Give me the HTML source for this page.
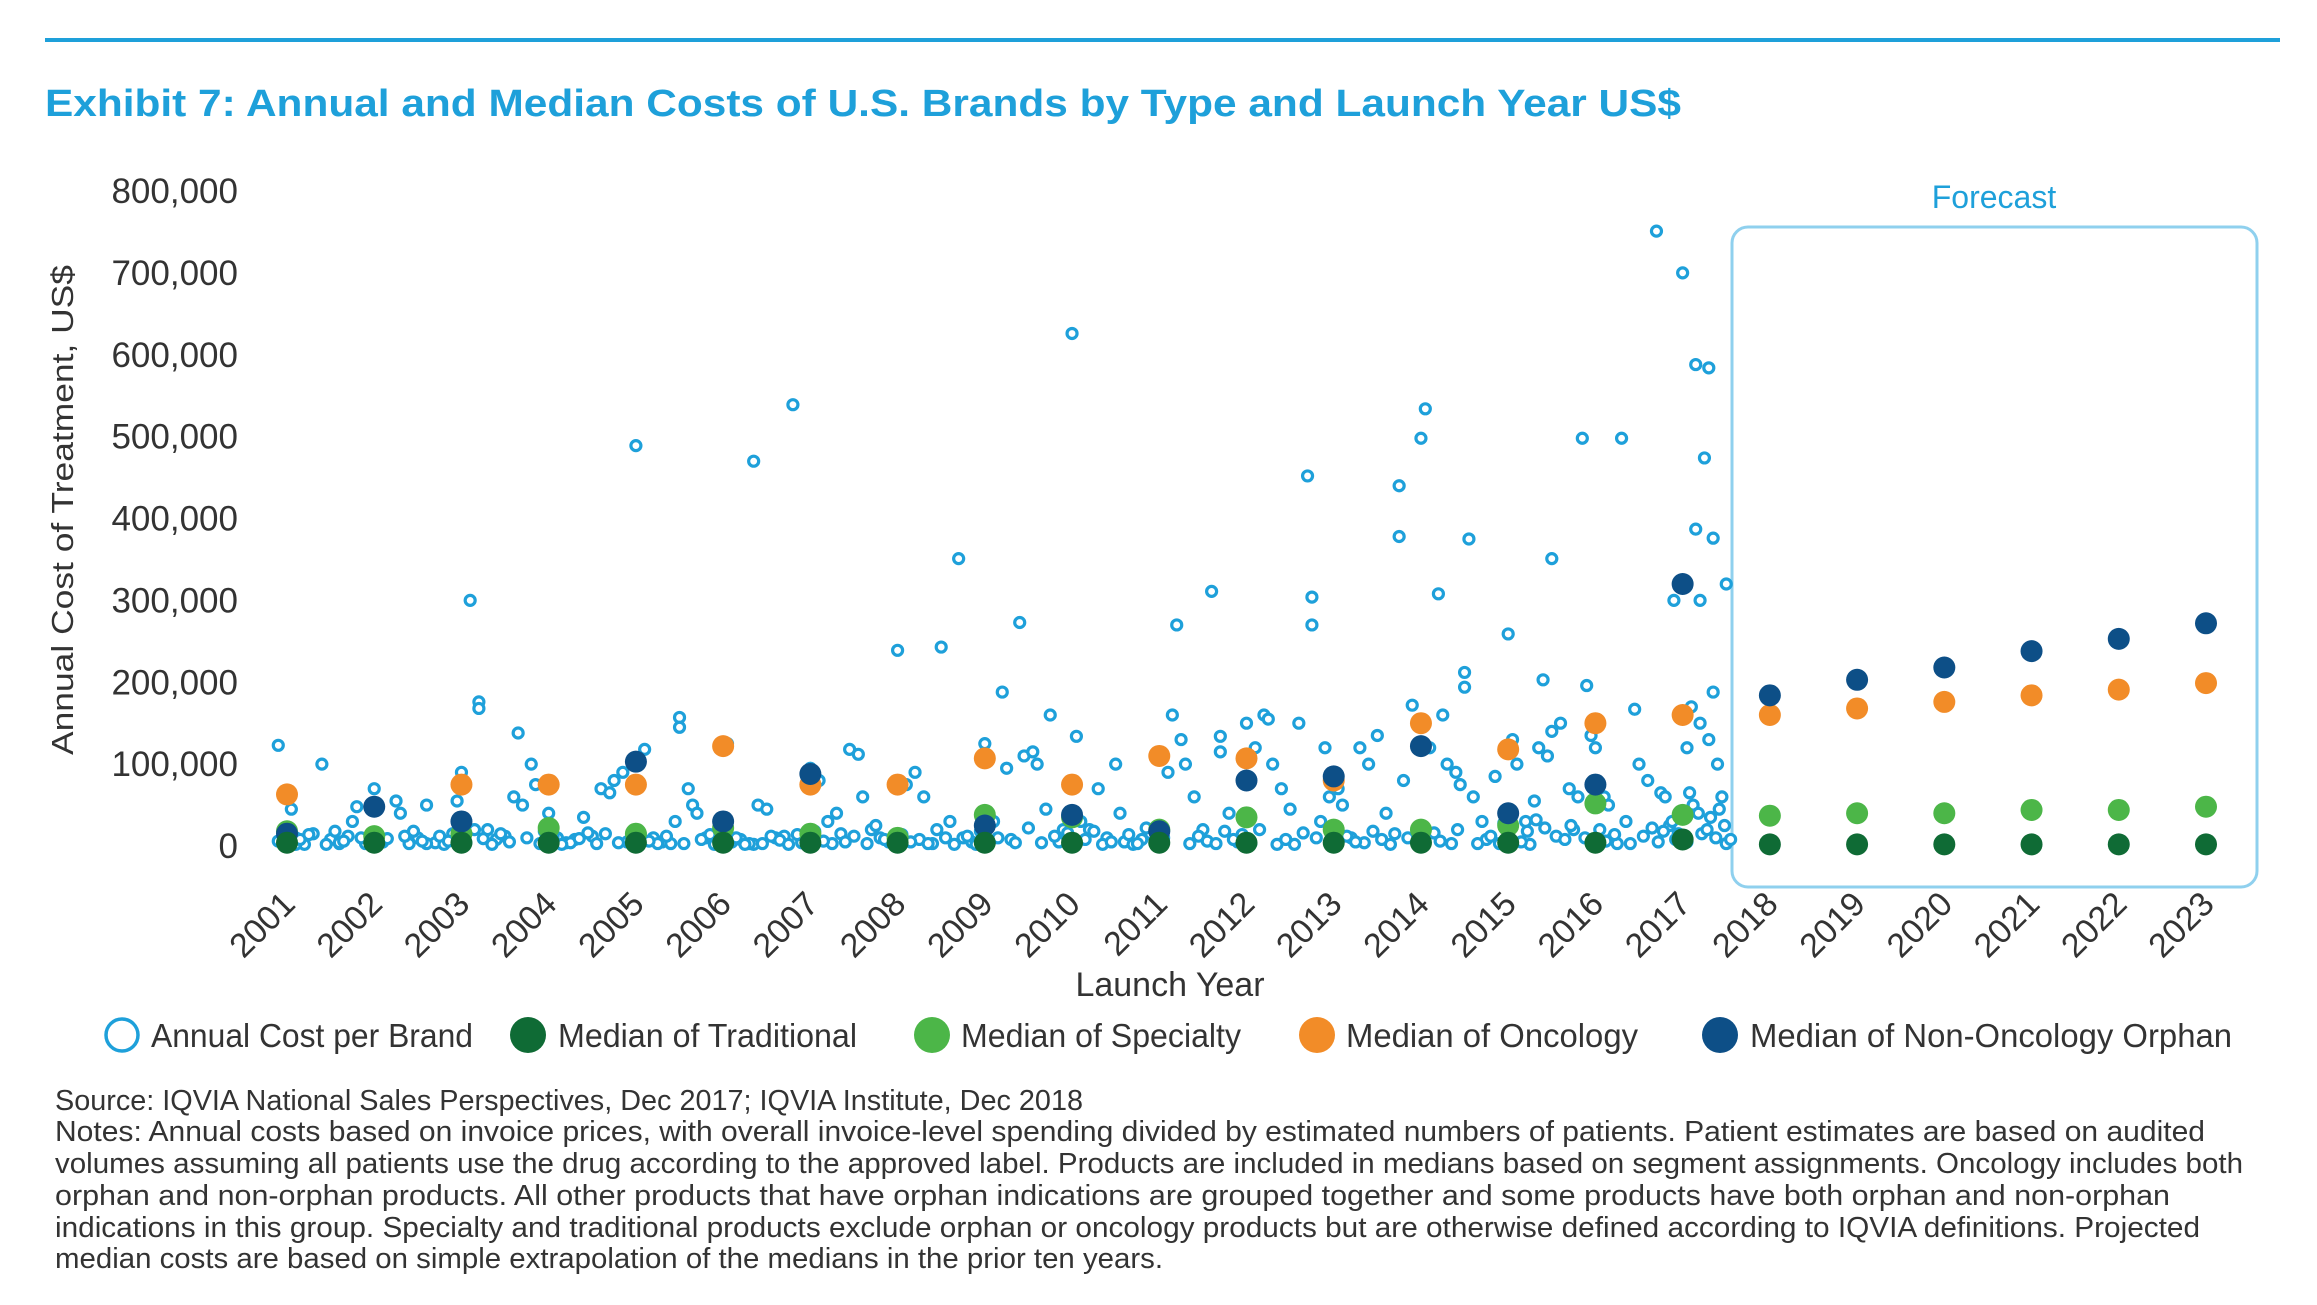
<!DOCTYPE html>
<html><head><meta charset="utf-8"><style>
html,body{margin:0;padding:0;background:#fff;}
svg{display:block;font-family:"Liberation Sans Narrow","Liberation Sans",sans-serif;}
</style></head><body>
<svg id="chart" width="2317" height="1305" viewBox="0 0 2317 1305" xmlns="http://www.w3.org/2000/svg">
<rect x="45" y="38" width="2235" height="4" fill="#1ea0da"/>
<text x="45" y="116" font-size="38" font-weight="bold" fill="#1ea0da" textLength="1636" lengthAdjust="spacingAndGlyphs">Exhibit 7: Annual and Median Costs of U.S. Brands by Type and Launch Year US$</text>
<rect x="1732" y="227" width="525" height="660" rx="16" fill="none" stroke="#8fd0ee" stroke-width="3"/>
<text x="1994" y="208" font-size="32" fill="#1ea0da" text-anchor="middle">Forecast</text>
<g id="yticks"></g>
<text transform="translate(73,510) rotate(-90)" font-family="Liberation Sans, sans-serif" font-size="31" fill="#333" text-anchor="middle" textLength="490" lengthAdjust="spacingAndGlyphs">Annual Cost of Treatment, US$</text>
<g id="xticks"></g>
<text x="1170" y="996" font-size="34" fill="#333" text-anchor="middle">Launch Year</text>
<g id="scatter"></g>
<g id="medians"></g>
<g font-size="33" fill="#333">
<g><circle cx="122" cy="1035" r="16" fill="none" stroke="#1ea0da" stroke-width="3.5"/><text x="151" y="1047" textLength="322" lengthAdjust="spacingAndGlyphs">Annual Cost per Brand</text></g>
<g><circle cx="528" cy="1035" r="18" fill="#0f6b35"/><text x="558" y="1047" textLength="299" lengthAdjust="spacingAndGlyphs">Median of Traditional</text></g>
<g><circle cx="932" cy="1035" r="18" fill="#4cb648"/><text x="961" y="1047" textLength="280" lengthAdjust="spacingAndGlyphs">Median of Specialty</text></g>
<g><circle cx="1317" cy="1035" r="18" fill="#f28c28"/><text x="1346" y="1047" textLength="292" lengthAdjust="spacingAndGlyphs">Median of Oncology</text></g>
<g><circle cx="1720" cy="1035" r="18" fill="#0d4f87"/><text x="1750" y="1047" textLength="482" lengthAdjust="spacingAndGlyphs">Median of Non-Oncology Orphan</text></g>
</g>
<g font-size="29" fill="#333">
<text x="55" y="1110" textLength="1028" lengthAdjust="spacingAndGlyphs">Source: IQVIA National Sales Perspectives, Dec 2017; IQVIA Institute, Dec 2018</text>
<text x="55" y="1141" textLength="2150" lengthAdjust="spacingAndGlyphs">Notes: Annual costs based on invoice prices, with overall invoice-level spending divided by estimated numbers of patients. Patient estimates are based on audited</text>
<text x="55" y="1173" textLength="2188" lengthAdjust="spacingAndGlyphs">volumes assuming all patients use the drug according to the approved label. Products are included in medians based on segment assignments. Oncology includes both</text>
<text x="55" y="1205" textLength="2115" lengthAdjust="spacingAndGlyphs">orphan and non-orphan products. All other products that have orphan indications are grouped together and some products have both orphan and non-orphan</text>
<text x="55" y="1237" textLength="2145" lengthAdjust="spacingAndGlyphs">indications in this group. Specialty and traditional products exclude orphan or oncology products but are otherwise defined according to IQVIA definitions. Projected</text>
<text x="55" y="1268" textLength="1108" lengthAdjust="spacingAndGlyphs">median costs are based on simple extrapolation of the medians in the prior ten years.</text>
</g>
</svg>
<script>
const years=[2001,2002,2003,2004,2005,2006,2007,2008,2009,2010,2011,2012,2013,2014,2015,2016,2017,2018,2019,2020,2021,2022,2023];
const yTicks=[0,100000,200000,300000,400000,500000,600000,700000,800000];
const yTickLabels=["0","100,000","200,000","300,000","400,000","500,000","600,000","700,000","800,000"];
const medTraditional=[4,4,4,4,4,4,4,4,4,4,4,4,4,4,4,4,8,2,2,2,2,2,2];
const medSpecialty=[18,12,15,22,15,22,15,10,38,35,20,35,20,20,25,52,38,37,40,40,44,44,48];
const medOncology=[63,null,75,75,75,122,75,75,107,75,110,107,80,150,118,150,160,160,168,176,184,191,199];
const medOrphan=[15,48,30,null,103,30,88,null,25,38,18,80,85,122,40,75,320,184,203,218,238,253,272];
const brandYears=[2000.9,2001.0,2001.05,2001.2,2001.3,2001.4,2001.5,2001.6,2001.7,2001.8,2001.9,2000.9,2001.1,
2002.0,2002.1,2002.25,2002.3,2002.4,2002.5,2002.6,2002.7,2002.8,2002.9,2001.75,2002.35,2002.85,
2003.1,2003.2,2003.2,2003.0,2002.95,2003.3,2003.4,2003.5,2003.65,2003.7,2003.8,2003.9,2003.6,2003.85,
2004.0,2004.1,2004.2,2004.3,2004.4,2004.5,2004.6,2004.7,2004.75,2004.85,2004.9,2004.55,2004.65,
2005.0,2005.1,2005.2,2005.3,2005.4,2005.5,2005.5,2005.6,2005.65,2005.7,2005.8,2005.9,2005.45,
2006.0,2006.05,2006.1,2006.2,2006.35,2006.35,2006.4,2006.5,2006.6,2006.8,2006.7,2006.9,2006.3,
2007.0,2007.1,2007.2,2007.3,2007.45,2007.55,2007.6,2007.7,2007.8,2007.9,2007.35,2007.25,
2008.0,2008.1,2008.2,2008.3,2008.4,2008.5,2008.6,2008.7,2008.75,2008.85,2008.9,2008.45,2008.25,
2009.0,2009.1,2009.2,2009.25,2009.4,2009.45,2009.55,2009.6,2009.7,2009.75,2009.85,2009.9,2009.3,
2010.0,2010.05,2010.1,2010.2,2010.3,2010.4,2010.5,2010.55,2010.6,2010.7,2010.8,2010.9,2010.95,
2011.0,2011.1,2011.15,2011.2,2011.25,2011.3,2011.4,2011.5,2011.6,2011.7,2011.7,2011.8,2011.9,
2012.0,2012.1,2012.2,2012.25,2012.3,2012.4,2012.5,2012.6,2012.7,2012.75,2012.75,2012.85,2012.9,2012.95,
2013.0,2013.05,2013.1,2013.2,2013.3,2013.4,2013.5,2013.6,2013.75,2013.75,2013.8,2013.9,2013.95,2014.0,
2014.05,2014.1,2014.2,2014.25,2014.3,2014.4,2014.45,2014.5,2014.5,2014.55,2014.6,2014.7,2014.75,2014.85,2014.9,
2015.0,2015.05,2015.1,2015.2,2015.3,2015.35,2015.4,2015.45,2015.5,2015.5,2015.6,2015.7,2015.75,2015.8,2015.85,2015.9,2015.95,
2016.0,2016.1,2016.15,2016.2,2016.3,2016.35,2016.45,2016.5,2016.6,2016.7,2016.75,2016.8,2016.85,2016.9,2016.95,
2017.0,2017.0,2017.05,2017.1,2017.15,2017.15,2017.2,2017.2,2017.25,2017.3,2017.3,2017.35,2017.35,2017.4,2017.45,2017.5,2017.5,
2001.1,2001.6,2002.6,2003.35,2004.25,2005.25,2006.25,2007.4,2008.35,2009.35,2010.35,2011.35,2012.35,2013.35,2014.35,2015.25,2016.25,2017.05,
2001.15,2001.25,2001.45,2001.55,2001.65,2001.85,2002.05,2002.15,2002.45,2002.55,2002.75,2003.05,2003.15,2003.25,2003.45,2003.55,2003.75,2003.95,
2004.05,2004.15,2004.35,2004.45,2004.8,2004.95,2005.05,2005.15,2005.35,2005.55,2005.75,2005.85,2005.95,2006.15,2006.45,2006.55,2006.65,2006.75,2006.85,
2007.05,2007.15,2007.5,2007.65,2007.75,2007.85,2007.95,2008.05,2008.15,2008.55,2008.65,2008.8,2008.95,2009.05,2009.15,2009.5,2009.65,2009.8,2009.95,
2010.15,2010.25,2010.45,2010.65,2010.75,2010.85,2011.05,2011.45,2011.55,2011.65,2011.75,2011.85,2011.95,2012.05,2012.15,2012.45,2012.55,2012.65,2012.8,
2013.15,2013.25,2013.45,2013.55,2013.65,2013.7,2013.85,2014.15,2014.22,2014.42,2014.65,2014.8,2014.95,2015.15,2015.22,2015.32,2015.42,2015.55,2015.65,2015.72,2015.88,
2016.05,2016.12,2016.22,2016.4,2016.55,2016.65,2016.72,2016.78,2016.88,2016.92,2017.08,2017.12,2017.18,2017.22,2017.28,2017.32,2017.38,2017.42,2017.48,2017.55];
const brandCosts=[123,5,45,2,15,100,8,3,12,48,3,6,10,
70,5,55,40,3,10,50,4,2,15,30,12,6,
300,176,168,90,55,20,8,12,138,50,100,3,60,75,
40,10,4,8,35,12,70,65,80,90,5,3,15,
489,118,10,5,3,157,145,70,50,40,10,2,30,
120,125,5,8,470,2,50,45,10,539,12,4,3,
95,80,30,40,118,112,60,20,10,5,15,3,
239,75,90,60,3,243,30,351,10,5,2,20,8,
125,30,188,95,273,110,115,100,45,160,5,20,8,
626,134,30,20,70,10,100,40,5,2,8,15,3,
110,90,160,270,130,100,60,20,311,134,115,40,5,
150,120,160,155,100,70,45,150,452,270,304,30,120,60,
85,70,50,10,120,100,135,40,440,378,80,172,10,498,
534,120,308,160,100,90,75,194,212,375,60,30,8,85,3,
259,130,100,30,55,120,203,110,351,140,150,70,20,60,498,196,135,
120,60,50,10,498,30,167,100,80,751,65,60,25,300,15,
700,160,120,170,588,387,300,150,474,584,130,376,188,100,60,320,3,
2,4,3,2,4,3,2,5,3,4,2,3,2,4,3,2,3,5,
8,14,2,18,6,10,3,9,18,6,12,4,20,9,15,5,10,18,
12,2,9,16,4,10,15,6,12,3,8,14,5,10,3,12,7,2,14,
18,6,12,3,25,8,4,14,5,10,2,12,18,6,10,22,4,12,16,
8,18,5,14,3,22,10,12,6,3,18,8,14,3,20,8,2,16,10,
12,5,18,8,2,15,10,16,6,20,3,12,28,5,18,32,22,12,8,25,10,
20,6,14,3,12,22,5,18,30,8,65,50,40,15,20,35,10,45,25,8];

const SVGNS="http://www.w3.org/2000/svg";
const X0=287, XSTEP=(2206-287)/22, Y0=846, YTOP=191, YMAX=800000;
function xs(yr){return X0+(yr-2001)*XSTEP;}
function ys(v){return Y0-(v/YMAX)*(Y0-YTOP);}
function mk(tag,parent){const e=document.createElementNS(SVGNS,tag);parent.appendChild(e);return e;}

const gy=document.getElementById('yticks');
yTicks.forEach((v,i)=>{
  const t=mk('text',gy);
  
  
  t.setAttribute('x',238);t.setAttribute('y',ys(v)+12);
  t.setAttribute('text-anchor','end');t.setAttribute('font-size','35');t.setAttribute('fill','#333');
  t.textContent=yTickLabels[i];
});
const gx=document.getElementById('xticks');
years.forEach(yr=>{
  const t=mk('text',gx);
  
  
  const x=xs(yr)+10,y=906;
  t.setAttribute('transform','translate('+x+','+y+') rotate(-45)');
  t.setAttribute('text-anchor','end');t.setAttribute('font-size','34');t.setAttribute('fill','#333');
  t.textContent=yr;
});
const gs=document.getElementById('scatter');
brandYears.forEach((yr,i)=>{
  const c=mk('circle',gs);
  
  
  c.setAttribute('cx',xs(yr));c.setAttribute('cy',ys(brandCosts[i]*1000));
  c.setAttribute('r',5);c.setAttribute('fill','#fff');c.setAttribute('stroke','#1ea0da');c.setAttribute('stroke-width','3.2');
});
const gm=document.getElementById('medians');
const series=[[medSpecialty,'#4cb648','median-specialty'],[medOncology,'#f28c28','median-oncology'],[medOrphan,'#0d4f87','median-orphan'],[medTraditional,'#0f6b35','median-traditional']];
series.forEach(s=>{
  s[0].forEach((v,i)=>{
    if(v===null)return;
    const c=mk('circle',gm);
    
    
    c.setAttribute('cx',xs(years[i]));c.setAttribute('cy',ys(v*1000));
    c.setAttribute('r',11);c.setAttribute('fill',s[1]);
  });
});
</script>
</body></html>
